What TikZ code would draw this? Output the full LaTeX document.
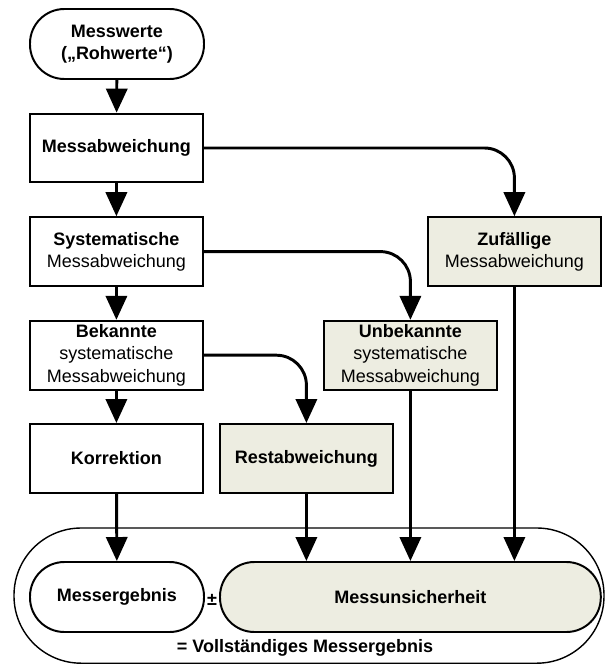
\documentclass[tikz,border=0pt]{standalone}
\usepackage{fontspec}
\setmainfont{Liberation Sans}
\usepackage{xcolor}
\usetikzlibrary{arrows.meta,positioning}
\definecolor{beige}{RGB}{237,237,225}

\begin{document}
\begin{tikzpicture}[
    font=\fontsize{12.8pt}{16pt}\selectfont,
    box/.style={draw, line width=1.4pt, minimum width=4.33cm, minimum height=1.72cm,
                align=center, inner sep=2pt, fill=white},
    unsure/.style={box, fill=beige},
    pill/.style={draw, line width=1.4pt, rounded corners=0.86cm, minimum height=1.75cm,
                 align=center, fill=white},
    arrow/.style={-{Triangle[length=6mm,width=5.3mm]}, line width=2.1pt},
    branch/.style={arrow, rounded corners=0.75cm},
  ]
    \useasboundingbox (0,0) rectangle (15.2,-16.65);

    % outer frame
    \node[pill, line width=1pt, rounded corners=1.68cm, minimum width=14.75cm,
          minimum height=3.38cm] (ganz) at (7.725,-14.89) {};
    \node[font=\fontsize{12.8pt}{16pt}\selectfont\bfseries] (ganztext) at (7.625,-16.2) {= Vollständiges Messergebnis};

    \node[pill, minimum width=4.35cm] (roh) at (2.925,-1.1) {\textbf{Messwerte}\\\textbf{(„Rohwerte“)}};
    \node[box] (mab)  at (2.91,-3.7)   {\textbf{Messabweichung}};
    \node[box] (sys)  at (2.91,-6.29)  {\textbf{Systematische}\\Messabweichung};
    \node[box] (bek)  at (2.91,-8.88)  {\textbf{Bekannte}\\systematische\\Messabweichung};
    \node[box] (korr) at (2.91,-11.46) {\textbf{Korrektion}};

    \node[unsure] (zuf)  at (12.86,-6.29)  {\textbf{Zufällige}\\Messabweichung};
    \node[unsure] (unb)  at (10.26,-8.88)  {\textbf{Unbekannte}\\systematische\\Messabweichung};
    \node[unsure] (rest) at (7.66,-11.46)  {\textbf{Restabweichung}};

    \node[pill, minimum width=4.35cm] (erg) at (2.925,-14.925) {\textbf{Messergebnis}};
    \node[pill, fill=beige, minimum width=9.52cm] (uns) at (10.26,-14.925) {\textbf{Messunsicherheit}};
    \node[font=\fontsize{12.8pt}{16pt}\selectfont\bfseries, inner sep=0pt] (pm) at (5.3,-15) {±};

    \draw[arrow] (roh) -- (mab);
    \draw[arrow] (mab) -- (sys);
    \draw[arrow] (sys) -- (bek);
    \draw[arrow] (bek) -- (korr);
    \draw[arrow] (korr) -- (erg);

    \draw[branch] (mab.east) -| (zuf.north);
    \draw[branch] (sys.east) -| (unb.north);
    \draw[branch] (bek.east) -| (rest.north);

    \draw[arrow] (rest.south) -- (rest.south |- uns.north);
    \draw[arrow] (unb.south)  -- (unb.south |- uns.north);
    \draw[arrow] (zuf.south)  -- (zuf.south |- uns.north);
\end{tikzpicture}
\end{document}
